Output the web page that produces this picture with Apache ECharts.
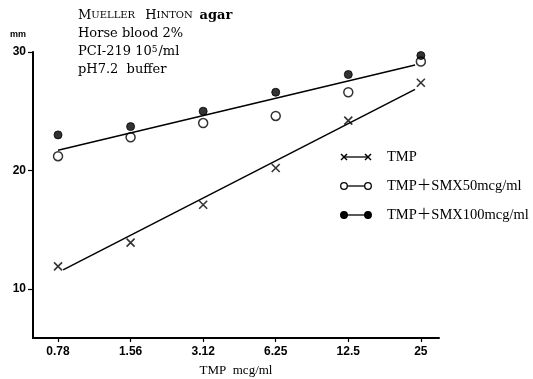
<!DOCTYPE html>
<html>
<head>
<meta charset="utf-8">
<script src="https://cdn.jsdelivr.net/npm/echarts@6/dist/echarts.min.js"></script>
<style>html,body{margin:0;padding:0;background:#fff}#c{width:533px;height:379px}</style>
</head>
<body>
<div id="c"></div>
<script>
// categories (TMP concentration, mcg/ml)
var categories = ['0.78', '1.56', '3.12', '6.25', '12.5', '25'];
// inhibition zone diameter (mm)
var tmpValues   = [11.9, 13.9, 17.1, 20.2, 24.2, 27.4];
var smx50Values = [21.2, 22.8, 24.0, 24.6, 26.6, 29.2];
var smx100Values = [23.0, 23.7, 25.0, 26.6, 28.1, 29.7];
// fitted regression lines (category position, mm)
var tmpFit = [[0.07, 11.6], [4.92, 26.85]];
var smxFit = [[0.0, 21.7], [4.92, 28.9]];
var yTicks = [10, 20, 30];
var seriesNames = ['TMP', 'TMP＋SMX50mcg/ml', 'TMP＋SMX100mcg/ml'];

var catIdx = categories.map(function (c, i) { return i; });
function pairs(vals) { return vals.map(function (v, i) { return [i, v]; }); }

var serif = '"DejaVu Serif", "Liberation Serif", "Noto Sans CJK JP", serif';
var lserif = '"Liberation Serif", "DejaVu Serif", "Noto Sans CJK JP", serif';
var crossPath = 'path://M0,0L10,10M10,0L0,10';

var chart = echarts.init(document.getElementById('c'), null, {renderer: 'canvas'});

function legendRow(y, kind, label) {
  var els = [];
  els.push({type: 'line', shape: {x1: 344, y1: y, x2: 368, y2: y}, style: {stroke: '#000', lineWidth: 1.3}});
  [344, 368].forEach(function (x) {
    if (kind === 'cross') {
      els.push({type: 'line', shape: {x1: x - 3, y1: y - 3, x2: x + 3, y2: y + 3}, style: {stroke: '#000', lineWidth: 1.4}});
      els.push({type: 'line', shape: {x1: x - 3, y1: y + 3, x2: x + 3, y2: y - 3}, style: {stroke: '#000', lineWidth: 1.4}});
    } else {
      els.push({type: 'circle', shape: {cx: x, cy: y, r: 3.3}, style: {fill: kind === 'open' ? '#fff' : '#000', stroke: '#000', lineWidth: 1.3}});
    }
  });
  els.push({type: 'text', x: 387, y: y, style: {text: label, font: '14.5px ' + lserif, fill: '#000', verticalAlign: 'middle'}});
  return els;
}

var graphics = [
  {type: 'text', x: 10, y: 30, style: {text: 'mm', font: 'bold 9px "Liberation Sans", sans-serif', fill: '#000'}},
  {type: 'text', x: 78, y: 9, style: {
    text: '{b|M}{s|UELLER}   {b|H}{s|INTON}  {g|agar}',
    fill: '#000',
    rich: {b: {fontSize: 13, fontFamily: serif, fill: '#000'}, s: {fontSize: 10, fontFamily: serif, fill: '#000'},
      g: {fontSize: 13, fontFamily: serif, fontWeight: 'bold', fill: '#000'}}
  }},
  {type: 'text', x: 78, y: 27, style: {text: 'Horse blood 2%', font: '13px ' + serif, fill: '#000'}},
  {type: 'text', x: 78, y: 45, style: {
    text: 'PCI-219 10{sup|5}/ml', fill: '#000',
    font: '13px ' + serif,
    rich: {sup: {fontSize: 9, fontFamily: serif, verticalAlign: 'top', padding: [0, 1, 5, 0]}}
  }},
  {type: 'text', x: 78, y: 63, style: {text: 'pH7.2  buffer', font: '13px ' + serif, fill: '#000'}}
].concat(legendRow(157, 'cross', seriesNames[0]))
 .concat(legendRow(186, 'open', seriesNames[1]))
 .concat(legendRow(215, 'filled', seriesNames[2]));

var option = {
  backgroundColor: '#fff',
  animation: false,
  grid: {left: 33, right: 94, top: 52, bottom: 41, outerBoundsMode: 'none'},
  xAxis: {
    type: 'value', min: -0.345, max: 5.25,
    name: 'TMP  mcg/ml', nameLocation: 'middle', nameGap: 26,
    nameTextStyle: {fontFamily: lserif, fontSize: 13, color: '#000'},
    splitLine: {show: false},
    axisLine: {show: true, onZero: false, lineStyle: {color: '#000', width: 2}},
    axisTick: {show: true, customValues: catIdx, length: 4, lineStyle: {color: '#000', width: 1.2}},
    axisLabel: {customValues: catIdx, margin: 8, color: '#000', fontSize: 12, fontWeight: 'bold',
      fontFamily: '"Liberation Sans", sans-serif',
      formatter: function (v) { return categories[Math.round(v)]; }}
  },
  yAxis: {
    type: 'value', min: 5.85, max: 30,
    splitLine: {show: false},
    axisLine: {show: true, onZero: false, lineStyle: {color: '#000', width: 2}},
    axisTick: {show: true, customValues: yTicks, length: 5, lineStyle: {color: '#000', width: 1.2}},
    axisLabel: {customValues: yTicks, margin: 7, color: '#000', fontSize: 12, fontWeight: 'bold',
      fontFamily: '"Liberation Sans", sans-serif'}
  },
  series: [
    {type: 'line', data: smxFit, symbol: 'none', silent: true, lineStyle: {color: '#000', width: 1.5}},
    {type: 'line', data: tmpFit, symbol: 'none', silent: true, lineStyle: {color: '#000', width: 1.5}},
    {name: seriesNames[0], type: 'scatter', data: pairs(tmpValues), symbol: crossPath, symbolSize: 8,
      itemStyle: {color: 'rgba(0,0,0,0)', borderColor: '#000', borderWidth: 1.6}},
    {name: seriesNames[1], type: 'scatter', data: pairs(smx50Values), symbol: 'circle', symbolSize: 9,
      itemStyle: {color: '#fff', borderColor: '#000', borderWidth: 1.5}},
    {name: seriesNames[2], type: 'scatter', data: pairs(smx100Values), symbol: 'circle', symbolSize: 8,
      itemStyle: {color: '#000', borderColor: '#000', borderWidth: 1}}
  ],
  graphic: graphics
};
chart.setOption(option);
</script>
</body>
</html>
